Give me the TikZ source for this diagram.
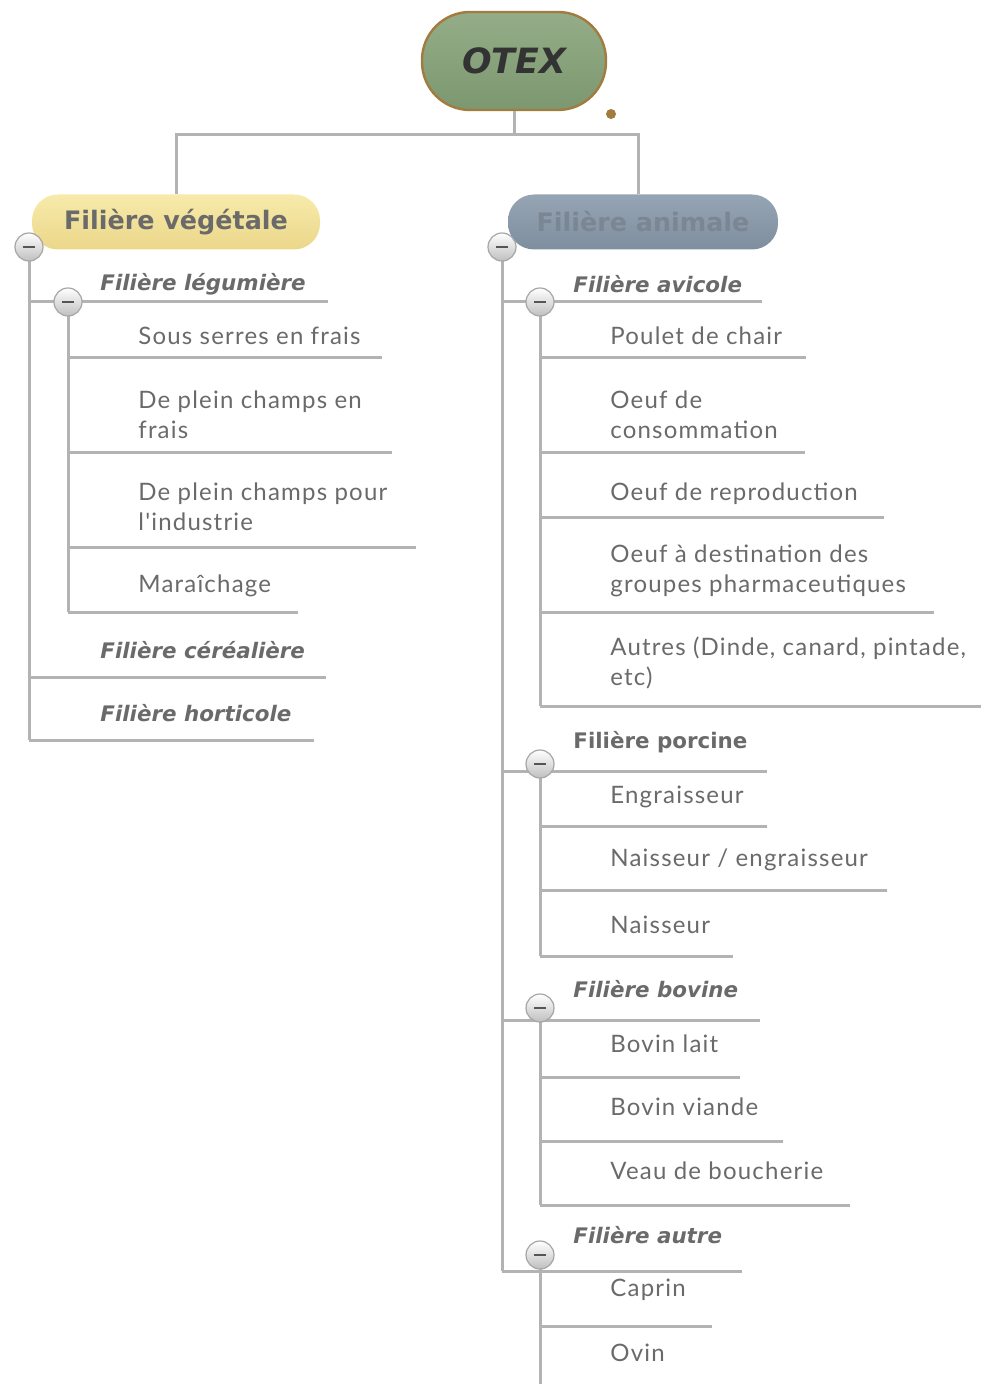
\documentclass[tikz,border=0pt]{standalone}
\usepackage{fontspec}
\usetikzlibrary{positioning,calc}
\newfontfamily\leaffont[LetterSpace=5]{Lato}
\newfontfamily\headfont{DejaVu Sans}
\definecolor{Line}{HTML}{B3B3B3}
\definecolor{Txt}{HTML}{6A6A6A}
\definecolor{Sage}{HTML}{94AD88}
\definecolor{SageDark}{HTML}{7C9870}
\definecolor{Bronze}{HTML}{A27B3E}
\definecolor{Straw}{HTML}{F7EAAA}
\definecolor{StrawDark}{HTML}{EBD78A}
\definecolor{Slate}{HTML}{96A5B4}
\definecolor{SlateDark}{HTML}{7F8E9E}
\definecolor{SlateTxt}{HTML}{7A8692}
\definecolor{Dash}{HTML}{555555}
\tikzset{
  branch/.style={draw=Line, line width=1.5pt},
  leaftext/.style={anchor=west, inner sep=0pt, text=Txt, align=left,
    font=\leaffont\fontsize{12}{15}\selectfont},
  headtext/.style={anchor=west, inner sep=0pt, text=Txt,
    font=\headfont\bfseries\itshape\fontsize{10.7}{12}\selectfont},
  headup/.style={headtext, font=\headfont\bfseries\fontsize{10.7}{12}\selectfont},
  foldbtn/.style={circle, minimum size=14pt, inner sep=0pt, draw=black!35,
    top color=white, bottom color=black!25, line width=0.6pt},
  pill/.style={rounded corners=13pt, minimum height=27.5pt, inner sep=0pt,
    font=\headfont\bfseries\fontsize{12.7}{14}\selectfont}
}
% name, stem x, line y, line end x, text y, text
\newcommand{\leaf}[6]{
  \coordinate (#1-s) at (#2,#3);
  \coordinate (#1-e) at (#4,#3);
  \draw[branch] (#1-s) -- (#1-e);
  \node[leaftext] (#1) at (#2+70,#5) {#6};
}
\newcommand{\head}[7][headtext]{
  \coordinate (#2-s) at (#3,#4);
  \coordinate (#2-e) at (#5,#4);
  \draw[branch] (#2-s) -- (#2-e);
  \node[#1] (#2) at (#3+71,#6) {#7};
}
\newcommand{\fold}[1]{
  \node[foldbtn] (#1-b) at (#1) {};
  \draw[Dash, line width=1.4pt] ([xshift=-3pt]#1-b.center) -- ([xshift=3pt]#1-b.center);
}

\begin{document}
\begin{tikzpicture}[x=0.5pt,y=-0.5pt]
  \useasboundingbox (0,0) rectangle (981,1384);
  % top of the map
  \coordinate (fork) at (514,135);
  \node[pill, rounded corners=24pt, minimum width=92pt, minimum height=49pt,
    draw=Bronze, line width=1.2pt, top color=Sage, bottom color=SageDark,
    font=\headfont\bfseries\itshape\fontsize{17.4}{19}\selectfont, text=black!80] (otex) at (514,61) {OTEX};
  \fill[Bronze] (611,114) circle (2.5pt);
  \draw[branch] (otex.south) -- (fork);
  \node[pill, minimum width=144pt, top color=Straw, bottom color=StrawDark, text=Txt] (veg) at (176,222) {Filière végétale};
  \node[pill, minimum width=135pt, top color=Slate, bottom color=SlateDark, text=SlateTxt] (ani) at (643,222) {Filière animale};
  \draw[branch] (veg.north) |- (fork) -| ([xshift=-2.5pt]ani.north);

  % vegetale
  \head{leg}{29}{302}{328}{284}{Filière légumière}
  \coordinate (leg-f) at (68,302);
  \leaf{sous}{68}{358}{382}{336}{Sous serres en frais}
  \leaf{plein}{68}{453}{392}{415}{De plein champs en\\frais}
  \leaf{indus}{68}{547}{416}{507}{De plein champs pour\\l'industrie}
  \leaf{mara}{68}{612}{298}{586}{Maraîchage}
  \draw[branch] (leg-f) -- (mara-s);
  \head{cere}{29}{677}{326}{650}{Filière céréalière}
  \head{horti}{29}{740}{314}{713}{Filière horticole}
  \coordinate (veg-f) at (29,247);
  \draw[branch] (veg-f) -- (horti-s);

  % animale
  \head{avi}{502}{302}{762}{284}{Filière avicole}
  \coordinate (avi-f) at (540,302);
  \leaf{poulet}{540}{358}{806}{336}{Poulet de chair}
  \leaf{conso}{540}{453}{805}{415}{Oeuf de\\consommation}
  \leaf{repro}{540}{517}{884}{494}{Oeuf de reproduction}
  \leaf{pharma}{540}{612}{934}{571}{Oeuf à destination des\\groupes pharmaceutiques}
  \leaf{autres}{540}{706}{981}{663}{Autres (Dinde, canard, pintade,\\etc)}
  \draw[branch] (avi-f) -- (autres-s);

  \head[headup]{porc}{502}{771}{767}{742}{Filière porcine}
  \coordinate (porc-f) at (540,764);
  \leaf{engr}{540}{826}{767}{797}{Engraisseur}
  \leaf{naiseng}{540}{890}{887}{860}{Naisseur / engraisseur}
  \leaf{nais}{540}{956}{733}{925}{Naisseur}
  \draw[branch] (porc-f) -- (nais-s);

  \head{bov}{502}{1020}{760}{989}{Filière bovine}
  \coordinate (bov-f) at (540,1008);
  \leaf{lait}{540}{1077}{740}{1044}{Bovin lait}
  \leaf{viande}{540}{1141}{783}{1107}{Bovin viande}
  \leaf{veau}{540}{1205}{850}{1171}{Veau de boucherie}
  \draw[branch] (bov-f) -- (veau-s);

  \head{autre}{502}{1271}{742}{1235}{Filière autre}
  \coordinate (autre-f) at (540,1255);
  \leaf{caprin}{540}{1326}{712}{1290}{Caprin}
  \node[leaftext] (ovin) at (610,1353) {Ovin};
  \coordinate (autre-end) at (540,1384);
  \draw[branch] (autre-f) -- (autre-end);
  \coordinate (ani-f) at (502,247);
  \draw[branch] (ani-f) -- (autre-s);

  % fold buttons
  \foreach \f in {veg-f,ani-f,leg-f,avi-f,porc-f,bov-f,autre-f}
    {\fold{\f}}
\end{tikzpicture}
\end{document}
